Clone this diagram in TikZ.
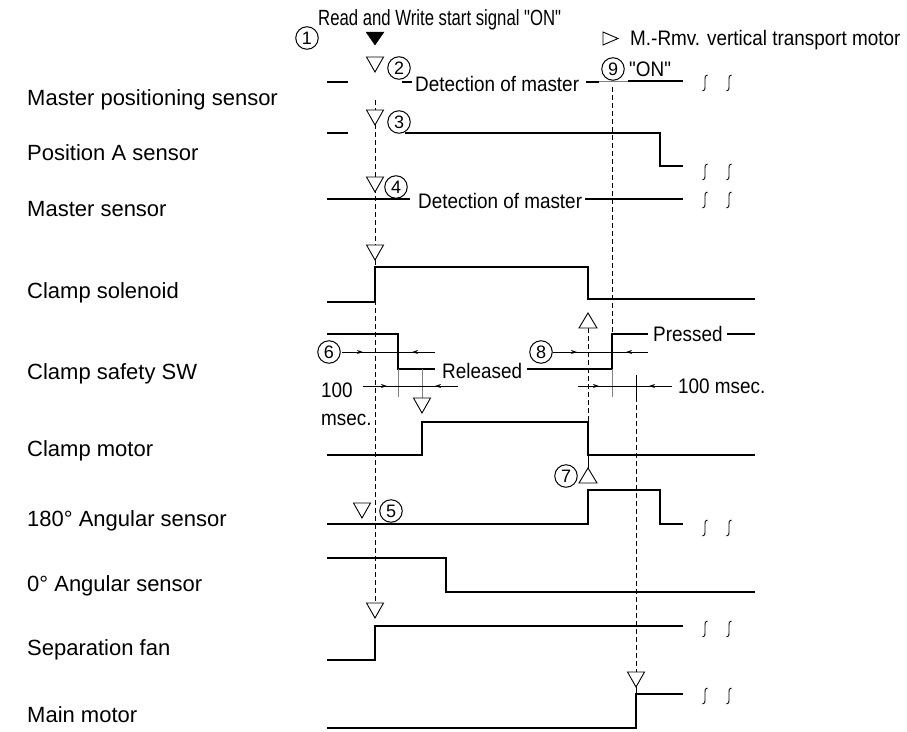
\documentclass[tikz,border=0pt]{standalone}
\usepackage{fontspec}
\setmainfont{Liberation Sans}[Ligatures=TeXOff]
\usetikzlibrary{arrows.meta}
\newcommand{\anntext}[1]{\scalebox{0.9}[1]{\fontsize{21}{24}\selectfont #1}}
\begin{document}
\begin{tikzpicture}[x=1pt,y=-1pt,
  wave/.style={line width=2.2pt},
  thinl/.style={line width=0.9pt},
  dashv/.style={line width=0.9pt, dash pattern=on 5pt off 3pt},
  lab/.style={anchor=base west, inner sep=0pt, font=\fontsize{22}{26}\selectfont},
  ann/.style={anchor=base west, inner sep=0pt},
  num/.style={circle, draw, line width=1pt, minimum size=22.5pt, inner sep=0pt, font=\fontsize{18}{18}\selectfont},
  dimtip/.style={-{Stealth[length=6pt,width=4pt]}, line width=0.9pt},
  dtri/.pic={\draw[line width=0.9pt,fill=white] (0,0) -- (-8.5,-15) -- (8.5,-15) -- cycle;},
  utri/.pic={\draw[line width=0.9pt,fill=white] (0,0) -- (-9,15) -- (9,15) -- cycle;},
  brk/.pic={\draw[line width=0.9pt] (2.5,-8) .. controls (0,-8) and (0,-6) .. (0,-4) -- (0,4) .. controls (0,6) and (0,8) .. (-2.5,8);}
]
\useasboundingbox (0,0) rectangle (907,731);

% ---------- labels ----------
\node[lab] (l1) at (27,105) {Master positioning sensor};
\node[lab] (l2) at (27,160) {Position A sensor};
\node[lab] (l3) at (27,216) {Master sensor};
\node[lab] (l4) at (27,298) {Clamp solenoid};
\node[lab] (l5) at (27,379) {Clamp safety SW};
\node[lab] (l6) at (27,456) {Clamp motor};
\node[lab] (l7) at (27,526) {180° Angular sensor};
\node[lab] (l8) at (27,591) {0° Angular sensor};
\node[lab] (l9) at (27,655) {Separation fan};
\node[lab] (l10) at (27,722) {Main motor};

% ---------- dashed guide lines ----------
\draw[dashv] (375,100) -- (375,603);
\draw[dashv] (612,87) -- (612,334);
\draw[dashv] (588,328) -- (588,422);
\draw[dashv] (636,397) -- (636,672);

% ---------- waveforms ----------
% master positioning sensor
\draw[wave] (327,82) -- (348,82);
\draw[wave] (402,82) -- (412,82);
\draw[wave] (586,82) -- (599,82);
\draw[thinl,gray] (599,81) -- (628,81);
\draw[wave] (628,81) -- (683,81);
% position A
\draw[wave] (327,133) -- (348,133);
\draw[wave] (405,133) -- (660,133) -- (660,166) -- (683,166);
% master sensor
\draw[wave] (327,199) -- (410,199);
\draw[wave] (585,199) -- (683,199);
% clamp solenoid
\draw[wave] (327,302) -- (375,302) -- (375,267) -- (588,267) -- (588,299) -- (755,299);
% clamp safety SW
\draw[wave] (327,334) -- (398,334) -- (398,369) -- (435,369);
\draw[wave] (527,369) -- (612,369) -- (612,334) -- (648,334);
\draw[wave] (727,334) -- (755,334);
% clamp motor
\draw[wave] (327,455) -- (422,455) -- (422,422) -- (588,422) -- (588,455) -- (755,455);
% 180 angular
\draw[wave] (327,524) -- (588,524) -- (588,490) -- (660,490) -- (660,524) -- (683,524);
% 0 angular
\draw[wave] (327,558) -- (446,558) -- (446,592) -- (755,592);
% separation fan
\draw[wave] (327,660) -- (375,660) -- (375,626) -- (683,626);
% main motor
\draw[wave] (327,728) -- (636,728) -- (636,694) -- (683,694);

% ---------- break marks ----------
\foreach \yy in {83,172,200,528,629,696} {
  \pic at (705,\yy) {brk};
  \pic at (729,\yy) {brk};
}

% ---------- extension lines ----------
\draw[thinl,gray] (398,369) -- (398,397);
\draw[thinl,gray] (422,369) -- (422,398);
\draw[thinl,gray] (612,369) -- (612,397);
\draw[thinl] (636,375) -- (636,397);
\draw[thinl] (588,455) -- (588,468);
\draw[thinl] (636,687) -- (636,694);

% ---------- dimension lines ----------
\draw[thinl] (342,352) -- (435,352);
\draw[dimtip] (342,352) -- (363,352);
\draw[dimtip] (435,352) -- (412,352);
\draw[thinl] (363,386) -- (458,386);
\draw[dimtip] (363,386) -- (387,386);
\draw[dimtip] (458,386) -- (435,386);
\draw[thinl] (553,352) -- (648,352);
\draw[dimtip] (553,352) -- (577,352);
\draw[dimtip] (648,352) -- (626,352);
\draw[thinl] (578,386) -- (672,386);
\draw[dimtip] (578,386) -- (599,386);
\draw[dimtip] (672,386) -- (649,386);

% ---------- triangles ----------
\draw[fill=black] (375,45) -- (366,32) -- (384,32) -- cycle;
\pic at (375,72) {dtri};
\pic at (375,125) {dtri};
\pic at (375,192) {dtri};
\pic at (375,260) {dtri};
\pic at (422,413) {dtri};
\pic at (362,518) {dtri};
\pic at (375,618) {dtri};
\pic at (636,687) {dtri};
\pic at (588,313) {utri};
\pic at (588,468) {utri};
\draw[line width=0.9pt] (603,32) -- (618,38.5) -- (603,45) -- cycle;

% ---------- circled numbers ----------
\node[num] (n1) at (307,38) {1};
\node[num] (n2) at (399,68) {2};
\node[num] (n3) at (399,122) {3};
\node[num] (n4) at (396,187) {4};
\node[num] (n5) at (391,511) {5};
\node[num,fill=white] (n6) at (329,352) {6};
\node[num] (n7) at (566,476) {7};
\node[num] (n8) at (541,352) {8};
\node[num] (n9) at (613,69) {9};

% ---------- annotation texts ----------
\node[ann] (t0) at (318,25) {\scalebox{0.76}[1]{\fontsize{22}{26}\selectfont Read and Write start signal "ON"}};
\node[ann] (t1) at (630,45) {\anntext{M.-Rmv. vertical transport motor}};
\node[ann] (t2) at (629,76) {\anntext{"ON"}};
\node[ann] (t3) at (415,91) {\anntext{Detection of master}};
\node[ann] (t4) at (418,208) {\anntext{Detection of master}};
\node[ann] (t5) at (442,378) {\anntext{Released}};
\node[ann] (t6) at (653,341) {\anntext{Pressed}};
\node[ann] (t7) at (678,393) {\anntext{100 msec.}};
\node[ann] (t8) at (321,397) {\anntext{100}};
\node[ann] (t9) at (321,425) {\anntext{msec.}};
\end{tikzpicture}
\end{document}
